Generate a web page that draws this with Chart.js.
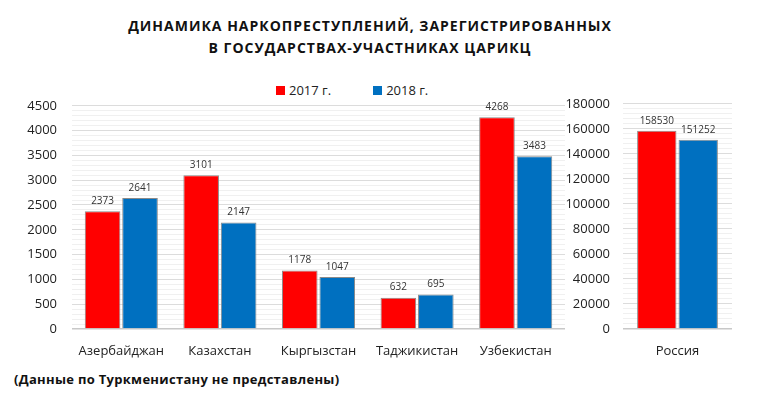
<!doctype html>
<html lang="ru">
<head>
<meta charset="utf-8">
<script src="https://cdn.jsdelivr.net/npm/chart.js"></script>
<title>Динамика наркопреступлений</title>
<style>
  body { margin:0; background:#fff; width:757px; height:397px; position:relative; overflow:hidden; font-family:"Open Sans", sans-serif; }
  .title { position:absolute; left:0; width:740px; top:15px; text-align:center; font-weight:bold; font-size:14px; letter-spacing:1px; line-height:22px; color:#111; }
  .legend { position:absolute; top:81px; left:276px; font-size:13px; color:#222; }
  .legend span.box { display:inline-block; width:9px; height:9px; margin-right:4px; vertical-align:0px; }
  .legend .item { margin-right:42px; }
  .note { position:absolute; left:14px; top:370px; font-weight:bold; font-size:13px; letter-spacing:0.3px; color:#111; }
  #left { position:absolute; left:0; top:83px; }
  #right { position:absolute; left:560px; top:83px; }
</style>
</head>
<body>
<div class="title">ДИНАМИКА НАРКОПРЕСТУПЛЕНИЙ, ЗАРЕГИСТРИРОВАННЫХ<br>В ГОСУДАРСТВАХ-УЧАСТНИКАХ ЦАРИКЦ</div>
<div class="legend"><span class="item"><span class="box" style="background:#ff0000"></span>2017 г.</span><span><span class="box" style="background:#0070c0"></span>2018 г.</span></div>
<div class="note">(Данные по Туркменистану не представлены)</div>
<div id="left"><canvas id="c1" width="565" height="276"></canvas></div>
<div id="right"><canvas id="c2" width="172" height="276"></canvas></div>
<script>
// data
const countries = ['Азербайджан', 'Казахстан', 'Кыргызстан', 'Таджикистан', 'Узбекистан'];
const y2017 = [2373, 3101, 1178, 632, 4268];
const y2018 = [2641, 2147, 1047, 695, 3483];
const russia = ['Россия'];
const russia2017 = [158530];
const russia2018 = [151252];

const RED = '#ff0000', BLUE = '#0070c0';

// values above bars
const valueLabels = {
  id: 'valueLabels',
  afterDatasetsDraw(chart) {
    const ctx = chart.ctx;
    ctx.save();
    ctx.font = '10px "Open Sans"';
    ctx.fillStyle = '#333';
    ctx.textAlign = 'center';
    ctx.textBaseline = 'bottom';
    chart.data.datasets.forEach((ds, i) => {
      chart.getDatasetMeta(i).data.forEach((bar, j) => {
        ctx.fillText(ds.data[j], bar.x, bar.y - 5);
      });
    });
    ctx.restore();
  }
};

function makeChart(el, labels, a, b, max, step, minor, yWidth) {
  return new Chart(el, {
    type: 'bar',
    data: {
      labels: labels,
      datasets: [
        { label: '2017 г.', data: a, backgroundColor: RED, borderColor: '#8a8a8a', borderWidth: 1, barPercentage: 0.95, categoryPercentage: 0.76 },
        { label: '2018 г.', data: b, backgroundColor: BLUE, borderColor: '#8a8a8a', borderWidth: 1, barPercentage: 0.95, categoryPercentage: 0.76 }
      ]
    },
    options: {
      responsive: false,
      animation: false,
      layout: { padding: { top: 14, right: 0, bottom: 0, left: 0 } },
      plugins: { legend: { display: false }, tooltip: { enabled: false } },
      scales: {
        x: {
          grid: { display: false },
          border: { display: false },
          ticks: { color: '#222', font: { size: 13, family: 'Open Sans' }, padding: 6, maxRotation: 0 },
          afterFit(s) { s.height = 30; }
        },
        y: {
          min: 0, max: max,
          border: { display: false },
          grid: {
            drawTicks: false,
            color: ctx => ctx.tick.value === 0 ? '#c8c8c8' : (ctx.tick.value % step === 0 ? '#dcdcdc' : '#f0f0f0'),
            lineWidth: ctx => ctx.tick.value === 0 ? 1.5 : 1
          },
          ticks: {
            stepSize: minor,
            autoSkip: false,
            color: '#222',
            font: { size: 13, family: 'Open Sans' },
            padding: yWidth === 72 ? 15 : 13,
            callback: v => v % step === 0 ? v : ''
          },
          afterFit(s) { s.width = yWidth; }
        }
      }
    },
    plugins: [valueLabels]
  });
}

makeChart(document.getElementById('c1'), countries, y2017, y2018, 4500, 500, 100, 72);
makeChart(document.getElementById('c2'), russia, russia2017, russia2018, 180000, 20000, 4000, 63);
</script>
</body>
</html>
